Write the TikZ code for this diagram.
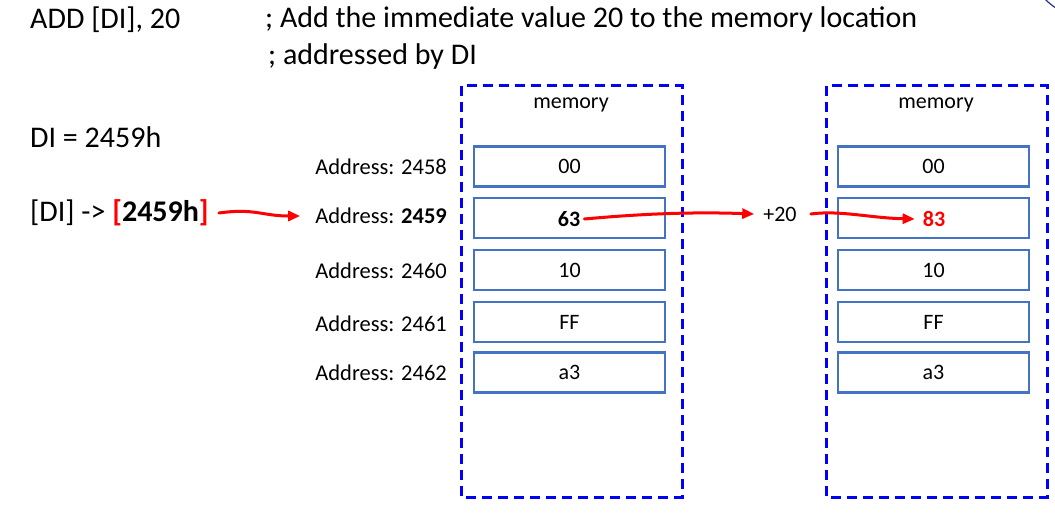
\documentclass[tikz,border=0pt]{standalone}
\usepackage{fontspec}
\setmainfont{Carlito}
\usetikzlibrary{arrows.meta, positioning, calc}

\definecolor{cellblue}{RGB}{68,114,196}
\definecolor{navyline}{RGB}{40,50,140}

\begin{document}
\begin{tikzpicture}[
    x=1pt, y=-1pt,
    >={Triangle[length=12pt, width=10pt]},
    big text/.style={font=\fontsize{30}{36}\selectfont, anchor=west, inner sep=0pt},
    addr text/.style={font=\fontsize{22.5}{27}\selectfont, anchor=east, inner sep=0pt},
    cell/.style={draw=cellblue, line width=2.2pt, minimum width=191pt, minimum height=40pt,
        inner sep=0pt, font=\fontsize{22}{26}\selectfont},
    memory box/.style={draw=blue, line width=3pt, dash pattern=on 10pt off 6pt},
    red arrow/.style={draw=red, ->, line width=3pt, line cap=round}
]
    \useasboundingbox (0,0) rectangle (1055,524);

    % ==================== INSTRUCTION ====================
    \node[big text] (instr) at (30,20) {ADD [DI], 20};
    \node[big text] (comment1) at (265,20) {; Add the immediate value 20 to the memory location};
    \node[big text] (comment2) at (268,57) {; addressed by DI};
    \node[big text] (diline) at (30,137) {DI = 2459h};
    \node[big text] (ptr) at (30,213) {[DI] -> \textbf{\textcolor{red}{[}2459h\textcolor{red}{]}}};

    % ==================== LEFT MEMORY ====================
    \draw[memory box] (461,86) rectangle (682,497);
    \node[font=\fontsize{22}{26}\selectfont] (memL) at (571,105) {memory};

    \node[cell] (L1) at (569.5,166.5) {00};
    \node[cell] (L2) at (569.5,218) {};
    \node[cell] (L3) at (569.5,270) {10};
    \node[cell] (L4) at (569.5,322) {FF};
    \node[cell] (L5) at (569.5,372.5) {a3};

    % Address labels
    \node[addr text] (a1) at (447,167) {Address: 2458};
    \node[addr text] (a2) at (447,216) {Address: \textbf{2459}};
    \node[addr text] (a3) at (447,271) {Address: 2460};
    \node[addr text] (a4) at (447,324) {Address: 2461};
    \node[addr text] (a5) at (447,373) {Address: 2462};

    % ==================== RIGHT MEMORY ====================
    \draw[memory box] (826,86) rectangle (1047,497);
    \node[font=\fontsize{22}{26}\selectfont] (memR) at (936,105) {memory};

    \node[cell] (R1) at (933.5,166.5) {00};
    \node[cell] (R2) at (933.5,218) {};
    \node[cell] (R3) at (933.5,270) {10};
    \node[cell] (R4) at (933.5,322) {FF};
    \node[cell] (R5) at (933.5,372.5) {a3};

    % values
    \node[font=\fontsize{22}{26}\selectfont\bfseries, inner sep=0pt] (val) at (569,219) {63};
    \node[font=\fontsize{22}{26}\selectfont, inner sep=0pt] (plus) at (780,214) {+20};
    \node[font=\fontsize{22}{26}\selectfont\bfseries, text=red, inner sep=0pt] (res) at (934,219) {83};

    % ==================== ARROWS ====================
    \draw[red arrow] ([xshift=10pt]ptr.east) .. controls (255,208) and (262,216) .. ([xshift=-15pt]a2.west);
    \draw[red arrow] ([xshift=4pt]val.east) .. controls (650,213) and (700,212) .. ([xshift=-9pt]plus.west);
    \draw[red arrow] ([xshift=14pt]plus.east) .. controls (840,210) and (870,218) .. ([xshift=-8pt]res.west);

    % corner of a shape cut off at the top right
    \begin{scope}
        \clip (0,0) rectangle (1055,524);
        \draw[navyline, line width=1.2pt] (1090,-45) circle (63);
    \end{scope}
\end{tikzpicture}
\end{document}
